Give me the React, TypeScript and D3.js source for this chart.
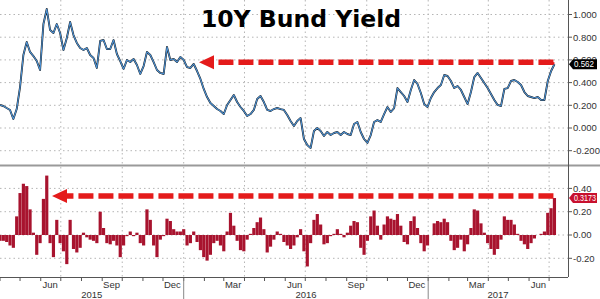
import React, { useEffect } from "react";
import * as d3 from "d3";

const W = 600;
const H = 299;

const startDate = "2015-04-01";
const stepDays = 5;

// 10Y Bund yield (%), one reading every 5 days from startDate
const yieldValues = [
  0.203, 0.194, 0.176, 0.159, 0.079, 0.167, 0.361, 0.643, 0.758, 0.670,
  0.634, 0.590, 0.511, 0.916, 1.048, 0.863, 0.837, 0.916, 0.837, 0.687,
  0.793, 0.934, 0.819, 0.749, 0.705, 0.687, 0.705, 0.643, 0.617, 0.529,
  0.767, 0.775, 0.696, 0.696, 0.775, 0.652, 0.590, 0.520, 0.599, 0.581,
  0.608, 0.555, 0.476, 0.546, 0.670, 0.643, 0.581, 0.511, 0.485, 0.476,
  0.714, 0.599, 0.608, 0.581, 0.626, 0.599, 0.537, 0.529, 0.564, 0.502,
  0.432, 0.344, 0.273, 0.220, 0.194, 0.167, 0.150, 0.123, 0.203, 0.247,
  0.291, 0.229, 0.185, 0.150, 0.106, 0.123, 0.159, 0.256, 0.282, 0.229,
  0.159, 0.150, 0.167, 0.176, 0.167, 0.159, 0.115, 0.062, 0.018, 0.062,
  0.088, -0.097, -0.150, -0.176, -0.026, 0.000, -0.026, -0.070, -0.035, -0.062,
  -0.044, -0.035, -0.062, -0.035, -0.053, -0.062, 0.035, 0.053, -0.035, -0.097,
  -0.132, -0.062, 0.053, 0.070, 0.053, 0.123, 0.185, 0.141, 0.176, 0.352,
  0.317, 0.282, 0.229, 0.335, 0.423, 0.388, 0.308, 0.211, 0.185, 0.264,
  0.317, 0.352, 0.379, 0.467, 0.458, 0.414, 0.352, 0.370, 0.335, 0.273,
  0.211, 0.317, 0.449, 0.485, 0.441, 0.396, 0.352, 0.300, 0.247, 0.203,
  0.194, 0.344, 0.352, 0.414, 0.423, 0.405, 0.379, 0.317, 0.282, 0.273,
  0.264, 0.273, 0.247, 0.247, 0.414, 0.502, 0.562,
];

// lower panel change series, same dates
const changeValues = [
  -0.05, -0.05, -0.06, -0.09, -0.11, 0.16, 0.36, 0.44, 0.42, 0.22,
  0.02, -0.17, -0.07, 0.31, 0.51, -0.07, -0.19, 0.13, -0.07, -0.14,
  -0.25, 0.13, -0.12, -0.15, -0.11, 0.02, -0.02, -0.04, -0.05, -0.07,
  0.2, 0.06, -0.07, -0.08, -0.05, -0.09, -0.19, -0.09, -0.01, 0.03,
  -0.01, 0.02, -0.07, -0.09, 0.22, 0.13, -0.09, -0.19, -0.04, -0.01,
  0.14, 0.12, 0.05, 0.03, 0.03, 0.05, -0.09, -0.07, 0.03, -0.06,
  -0.13, -0.19, -0.22, -0.17, -0.07, -0.05, -0.09, -0.14, 0.03, 0.19,
  0.08, -0.05, -0.13, -0.14, -0.04, 0.01, 0.06, 0.11, 0.15, 0.05,
  -0.15, -0.1, -0.04, 0.03, 0.01, -0.06, -0.09, -0.12, -0.09, -0.02,
  0.05, -0.14, -0.27, -0.07, 0.13, 0.18, 0.09, -0.08, -0.07, -0.01,
  0.01, 0.05, 0.01, -0.02, 0.02, 0.08, 0.12, 0.11, -0.11, -0.17,
  -0.05, 0.16, 0.21, 0.08, -0.04, 0.09, 0.16, 0.14, 0.13, 0.18,
  0.08, -0.06, -0.08, 0.12, 0.16, 0.06, -0.07, -0.14, -0.09, 0.0,
  0.1, 0.12, 0.11, 0.14, 0.11, -0.05, -0.13, -0.11, -0.04, -0.14,
  -0.08, 0.06, 0.22, 0.21, 0.1, 0.02, -0.07, -0.12, -0.17, -0.12,
  -0.04, 0.16, 0.13, 0.13, 0.09, 0.01, -0.05, -0.08, -0.12, -0.07,
  -0.03, 0.0, 0.01, 0.03, 0.19, 0.23, 0.3173,
];

const yieldTicks = [1.0, 0.8, 0.6, 0.4, 0.2, 0.0, -0.2];
const changeTicks = [0.4, 0.2, 0.0, -0.2];
const monthLabels = ["Jun", "Sep", "Dec", "Mar", "Jun", "Sep", "Dec", "Mar", "Jun"];
const yearLabels = ["2015", "2016", "2017"];
const lastYieldLabel = "0.562";
const lastChangeLabel = "0.3173";
const titleText = "10Y Bund Yield";

const AXIS_X = 568;
const FONT = "'Liberation Sans', Arial, sans-serif";

export default function App() {
  useEffect(() => {
    document.body.style.margin = "0";
  }, []);

  const parse = d3.timeParse("%Y-%m-%d");
  const start = parse(startDate) as Date;
  const dates = yieldValues.map((_, i) => d3.timeDay.offset(start, i * stepDays));

  const x = d3
    .scaleTime()
    .domain([new Date(2015, 3, 1), new Date(2017, 6, 1)])
    .range([0, 549.1]);
  const yTop = d3.scaleLinear().domain([0, 1]).range([128, 14.5]);
  const yBot = d3.scaleLinear().domain([0, 0.4]).range([235, 188.4]);

  const fmt3 = (v: number) => d3.format(".3f")(v).replace("\u2212", "-");
  const fmt2 = (v: number) => d3.format(".2f")(v).replace("\u2212", "-");

  const line = d3
    .line<number>()
    .x((_, i) => x(dates[i]))
    .y((d) => yTop(d));
  const linePath = line(yieldValues) || "";

  const quarterLines = d3.timeMonth.every(3)!.range(new Date(2015, 4, 1), new Date(2017, 7, 1));
  const monthTicks = d3.timeMonth.range(new Date(2015, 3, 1), new Date(2017, 7, 1));
  const labelMonths = d3.timeMonth.range(new Date(2015, 5, 1), new Date(2017, 6, 1), 3);
  const yearBounds = [new Date(2016, 0, 1), new Date(2017, 0, 1)];
  const yearCenters = [
    (0 + x(yearBounds[0])) / 2,
    (x(yearBounds[0]) + x(yearBounds[1])) / 2,
    (x(yearBounds[1]) + AXIS_X) / 2,
  ];

  const step = x(dates[1]) - x(dates[0]);
  const barW = step * 0.95;

  const red = "#e41b1b";
  const topArrowY = yTop(0.58);
  const botArrowY = yBot(0.335);
  const lastYield = yieldValues[yieldValues.length - 1];
  const lastChange = changeValues[changeValues.length - 1];
  const lastX = x(dates[dates.length - 1]);

  const tag = (cy: number, fill: string, label: string, len: number) => (
    <g>
      <path
        d={`M${AXIS_X + 1},${cy} L${AXIS_X + 5},${cy - 5} L${W - 3},${cy - 5} L${W - 3},${cy + 5} L${AXIS_X + 5},${cy + 5} Z`}
        fill={fill}
      />
      <text
        x={AXIS_X + 6}
        y={cy}
        dy="0.35em"
        fontSize={8.5}
        fill="#fff"
        fontFamily={FONT}
        textLength={len}
        lengthAdjust="spacingAndGlyphs"
      >
        {label}
      </text>
    </g>
  );

  return (
    <svg
      width={W}
      height={H}
      viewBox={`0 0 ${W} ${H}`}
      style={{ position: "absolute", left: 0, top: 0, background: "#fff" }}
    >
      <rect x={0} y={0} width={W} height={H} fill="#fff" />

      {/* grids */}
      {yieldTicks.map((t) => (
        <line key={"gt" + t} x1={0} x2={AXIS_X} y1={yTop(t)} y2={yTop(t)} stroke="#b5b5b5" strokeDasharray="1.5 3" />
      ))}
      {changeTicks.map((t) => (
        <line key={"gb" + t} x1={0} x2={AXIS_X} y1={yBot(t)} y2={yBot(t)} stroke="#b5b5b5" strokeDasharray="1.5 3" />
      ))}
      {quarterLines.map((d) => (
        <g key={"q" + d.getTime()}>
          <line x1={x(d)} x2={x(d)} y1={0} y2={164} stroke="#b5b5b5" strokeDasharray="1.5 3" />
          <line x1={x(d)} x2={x(d)} y1={167} y2={277} stroke="#b5b5b5" strokeDasharray="1.5 3" />
        </g>
      ))}

      {/* title */}
      <text
        x={301}
        y={27}
        textAnchor="middle"
        fontFamily="'DejaVu Sans', sans-serif"
        fontWeight="bold"
        fontSize={23.5}
        fill="#000"
      >
        {titleText}
      </text>

      {/* yield line */}
      <path d={linePath} fill="none" stroke="#1a1a1a" strokeWidth={1.9} strokeLinejoin="round" />
      <path d={linePath} fill="none" stroke="#4d93d6" strokeWidth={1.1} strokeLinejoin="round" />

      {/* bars */}
      {changeValues.map((v, i) => (
        <rect
          key={"b" + i}
          x={x(dates[i]) - barW / 2}
          y={Math.min(yBot(v), yBot(0))}
          width={barW}
          height={Math.abs(yBot(v) - yBot(0))}
          fill="#a8132e"
        />
      ))}

      {/* top arrow */}
      <line
        x1={lastX - 1}
        x2={212}
        y1={topArrowY}
        y2={topArrowY}
        stroke={red}
        strokeWidth={5.5}
        strokeDasharray="15 5"
      />
      <path d={`M199,${topArrowY} L214,${topArrowY - 7} L214,${topArrowY + 7} Z`} fill={red} />
      <line x1={lastX - 1} x2={lastX - 1} y1={topArrowY} y2={yTop(lastYield)} stroke={red} strokeWidth={2} />

      {/* bottom arrow */}
      <line
        x1={lastX - 1}
        x2={65}
        y1={botArrowY}
        y2={botArrowY}
        stroke={red}
        strokeWidth={5.5}
        strokeDasharray="15 5"
      />
      <path d={`M52,${botArrowY} L67,${botArrowY - 7} L67,${botArrowY + 7} Z`} fill={red} />

      {/* separator */}
      <line x1={0} x2={W} y1={165.5} y2={165.5} stroke="#9a9a9a" strokeWidth={2} />

      {/* right axes */}
      <line x1={AXIS_X + 0.5} x2={AXIS_X + 0.5} y1={0} y2={277} stroke="#555" strokeWidth={1} />
      {yieldTicks.map((t) => (
        <g key={"yt" + t}>
          <line x1={AXIS_X} x2={AXIS_X + 4} y1={yTop(t)} y2={yTop(t)} stroke="#555" />
          <text x={AXIS_X + 5} y={yTop(t)} dy="0.35em" fontSize={9.5} fill="#333" fontFamily={FONT}>
            {fmt3(t)}
          </text>
        </g>
      ))}
      {changeTicks.map((t) => (
        <g key={"ct" + t}>
          <line x1={AXIS_X} x2={AXIS_X + 4} y1={yBot(t)} y2={yBot(t)} stroke="#555" />
          <text x={AXIS_X + 5} y={yBot(t)} dy="0.35em" fontSize={9.5} fill="#333" fontFamily={FONT}>
            {fmt2(t)}
          </text>
        </g>
      ))}
      {tag(yTop(lastYield), "#000", lastYieldLabel, 20)}
      {tag(yBot(lastChange), "#c8102e", lastChangeLabel, 22)}

      {/* bottom time axis */}
      <line x1={0} x2={AXIS_X} y1={277.5} y2={277.5} stroke="#555" />
      {monthTicks.map((d) => (
        <line key={"mt" + d.getTime()} x1={x(d)} x2={x(d)} y1={277.5} y2={281} stroke="#555" />
      ))}
      {labelMonths.map((d, i) => (
        <text
          key={"ml" + i}
          x={x(d3.timeDay.offset(d, 14))}
          y={287.5}
          textAnchor="middle"
          fontSize={9.5}
          fill="#333"
          fontFamily={FONT}
        >
          {monthLabels[i]}
        </text>
      ))}
      {yearBounds.map((d, i) => (
        <line key={"yb" + i} x1={x(d)} x2={x(d)} y1={278} y2={H} stroke="#888" />
      ))}
      {yearLabels.map((lab, i) => (
        <text
          key={"yl" + i}
          x={yearCenters[i]}
          y={297.5}
          textAnchor="middle"
          fontSize={9.5}
          fill="#333"
          fontFamily={FONT}
        >
          {lab}
        </text>
      ))}
    </svg>
  );
}
